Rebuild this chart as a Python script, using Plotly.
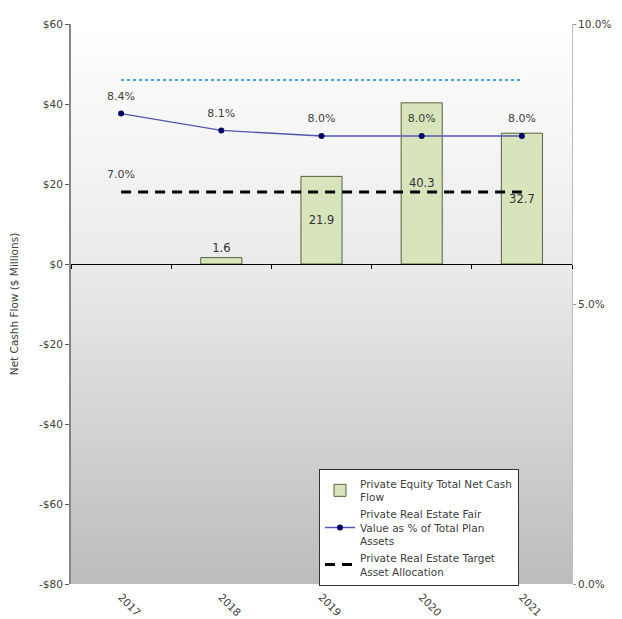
import base64
import plotly.graph_objects as go

years = ["2017", "2018", "2019", "2020", "2021"]
net_cash_flow = [None, 1.6, 21.9, 40.3, 32.7]
fair_value_pct = [8.4, 8.1, 8.0, 8.0, 8.0]
target_pct = [7.0, 7.0, 7.0, 7.0, 7.0]
upper_range_pct = [9.0, 9.0, 9.0, 9.0, 9.0]

left_ticks = [60, 40, 20, 0, -20, -40, -60, -80]
left_ticktext = ["$60", "$40", "$20", "$0", "-$20", "-$40", "-$60", "-$80"]
right_ticks = [10, 5, 0]
right_ticktext = ["10.0%", "5.0%", "0.0%"]

FONT = "DejaVu Sans, Verdana, sans-serif"
TXT = "#404040"

svg = ("<svg xmlns='http://www.w3.org/2000/svg' width='100' height='100' preserveAspectRatio='none'>"
       "<defs><linearGradient id='g' x1='0' y1='0' x2='0' y2='1'>"
       "<stop offset='0' stop-color='#ffffff'/><stop offset='0.42' stop-color='#ebebeb'/>"
       "<stop offset='1' stop-color='#bcbcbc'/></linearGradient></defs>"
       "<rect width='100' height='100' fill='url(#g)'/></svg>")
svg_uri = "data:image/svg+xml;base64," + base64.b64encode(svg.encode()).decode()

bar_pos = ["none" if v is None else ("outside" if v < 5 else "inside") for v in net_cash_flow]

fig = go.Figure()
fig.add_trace(go.Bar(
    x=years, y=net_cash_flow, xaxis="x", yaxis="y",
    name="Private Equity Total Net Cash<br>Flow",
    marker=dict(color="#d8e4bc", line=dict(color="#59613f", width=1)),
    width=0.41,
    text=[("" if v is None else f"{v:.1f}") for v in net_cash_flow],
    textposition=bar_pos, insidetextanchor="middle",
    textfont=dict(family=FONT, size=11.5, color="#333333"),
    cliponaxis=False,
))
fig.add_trace(go.Scatter(
    x=years, y=upper_range_pct, xaxis="x2", yaxis="y2",
    mode="lines", showlegend=False, hoverinfo="skip",
    line=dict(color="#4da3e0", width=2, dash="dot"),
))
fig.add_trace(go.Scatter(
    x=years, y=fair_value_pct, xaxis="x2", yaxis="y2",
    mode="lines+markers",
    name="Private Real Estate Fair<br>Value as % of Total Plan<br>Assets",
    line=dict(color="#5555b0", width=1.3),
    marker=dict(color="#000066", size=6),
))
fig.add_trace(go.Scatter(
    x=years, y=fair_value_pct, xaxis="x2", yaxis="y2",
    mode="markers+text", showlegend=False, hoverinfo="skip",
    marker=dict(size=16, opacity=0),
    text=[f"{v:.1f}%" for v in fair_value_pct],
    textposition="top center",
    textfont=dict(family=FONT, size=11, color=TXT),
))
fig.add_trace(go.Scatter(
    x=years, y=target_pct, xaxis="x2", yaxis="y2",
    mode="lines",
    name="Private Real Estate Target<br>Asset Allocation",
    line=dict(color="#000000", width=3, dash="10px,7px"),
))
fig.add_trace(go.Scatter(
    x=years[:1], y=target_pct[:1], xaxis="x2", yaxis="y2",
    mode="markers+text", showlegend=False, hoverinfo="skip",
    marker=dict(size=16, opacity=0),
    text=[f"{target_pct[0]:.1f}%"],
    textposition="top center",
    textfont=dict(family=FONT, size=11, color=TXT),
))

zero_pos = (0 - (-80)) / (60 - (-80))

fig.update_layout(
    width=614, height=611,
    margin=dict(l=63, r=50, t=16, b=35, autoexpand=False),
    paper_bgcolor="white", plot_bgcolor="rgba(0,0,0,0)",
    font=dict(family=FONT, size=10.5, color=TXT),
    images=[dict(source=svg_uri, xref="paper", yref="paper", x=0, y=1,
                 sizex=1, sizey=1, sizing="stretch", layer="below",
                 xanchor="left", yanchor="top")],
    xaxis=dict(type="category", categoryorder="array", categoryarray=years,
               range=[-0.5, 4.5], anchor="free", position=zero_pos,
               showline=True, linecolor="#000000", linewidth=1,
               ticks="outside", tickson="boundaries", ticklen=4, tickcolor="#000000",
               showticklabels=False, showgrid=False, zeroline=False, automargin=False),
    xaxis2=dict(type="category", categoryorder="array", categoryarray=years,
                range=[-0.5, 4.5], overlaying="x", anchor="y", side="bottom",
                showline=False, ticks="", tickangle=45, showgrid=False, automargin=False,
                ticklabelstandoff=4,
                tickfont=dict(family=FONT, size=10.5, color=TXT)),
    yaxis=dict(range=[-80, 60], tickvals=left_ticks, ticktext=left_ticktext,
               showline=True, linecolor="#868686", linewidth=2,
               ticks="outside", ticklen=4, tickcolor="#555555",
               showgrid=False, zeroline=False, anchor="x2", automargin=False,
               title=dict(text="Net Cashh Flow ($ Millions)", standoff=21,
                          font=dict(family=FONT, size=10.5, color=TXT)),
               tickfont=dict(family=FONT, size=10.5, color=TXT)),
    yaxis2=dict(range=[0, 10], tickvals=right_ticks, ticktext=right_ticktext,
                overlaying="y", side="right", anchor="x2", automargin=False,
                showline=True, linecolor="#bdbdbd", linewidth=1,
                ticks="outside", ticklen=3, tickcolor="#999999",
                showgrid=False, zeroline=False,
                tickfont=dict(family=FONT, size=10.5, color=TXT)),
    legend=dict(x=0.495, y=0.205, xanchor="left", yanchor="top",
                bgcolor="white", bordercolor="#333333", borderwidth=1,
                font=dict(family=FONT, size=10.5, color=TXT),
                tracegroupgap=0, itemwidth=30),
    showlegend=True,
)

fig.write_html("out.html")
